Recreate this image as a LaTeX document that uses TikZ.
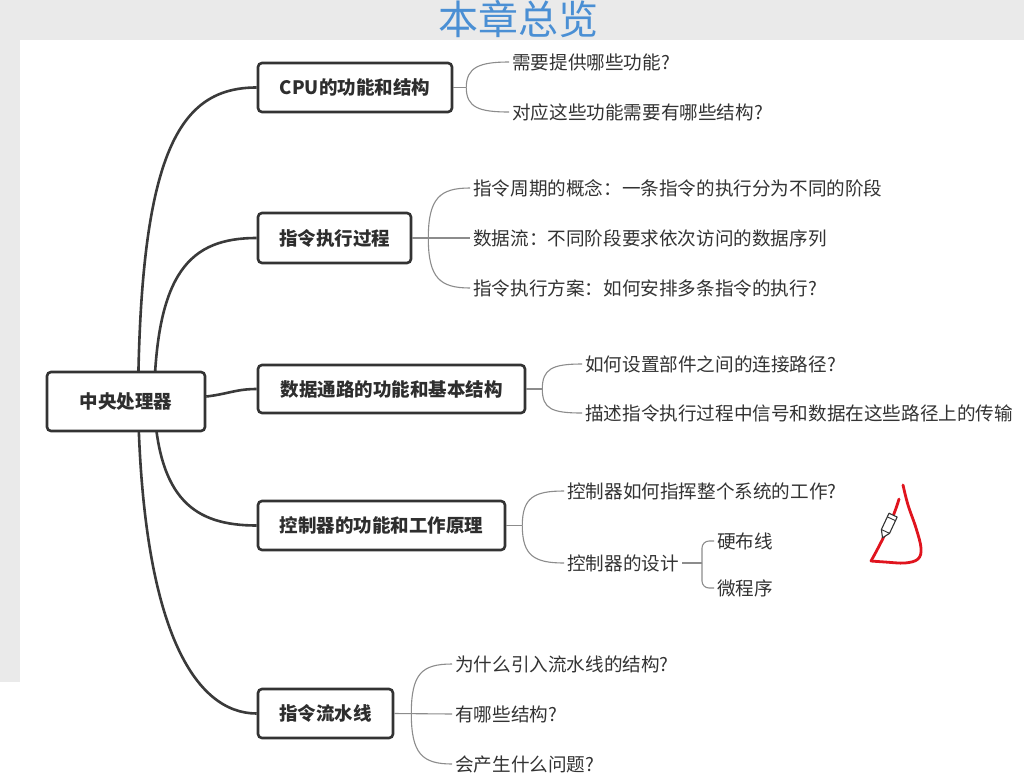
\documentclass[tikz,border=0pt]{standalone}
\usepackage{fontspec}
\setmainfont{Noto Sans CJK SC}
\usetikzlibrary{calc}
\pgfdeclarelayer{back}
\pgfdeclarelayer{bg}
\pgfsetlayers{back,bg,main}
\definecolor{titleblue}{HTML}{4A8FD4}
\definecolor{pagegray}{HTML}{EAEAEA}
\definecolor{nodeborder}{HTML}{333333}
\definecolor{nodetext}{HTML}{2E2E2E}
\definecolor{leaftext}{HTML}{333333}
\definecolor{linedark}{HTML}{3A3A3A}
\definecolor{linegray}{HTML}{8C8C8C}
\definecolor{inkred}{HTML}{E0141E}
\tikzset{
  topic/.style={draw=nodeborder, line width=2.6pt, rounded corners=4pt, fill=white,
    font=\fontsize{18.5}{20}\selectfont\bfseries, text=nodetext, inner sep=0pt},
  leaf/.style={anchor=west, inner xsep=3pt, inner ysep=0pt,
    font=\fontsize{18.6}{20}\selectfont, text=leaftext},
  mainline/.style={draw=linedark, line width=2.6pt},
  subline/.style={draw=linegray, line width=1.1pt},
  redink/.style={draw=inkred, line width=2.8pt, line cap=round, line join=round},
}
\begin{document}
\begin{tikzpicture}[x=1pt,y=-1pt]
\useasboundingbox (0,0) rectangle (1024,779);
\begin{pgfonlayer}{back}
\fill[pagegray] (0,0) rectangle (1024,779);
\fill[white] (20,40) rectangle (1024,779);
\fill[white] (0,682) rectangle (20,779);
\end{pgfonlayer}

\node[font=\fontsize{40}{44}\selectfont, text=titleblue] (title) at (518,19) {本章总览};

% topic nodes
\node[topic, minimum width=158pt, minimum height=59pt] (root) at (126,401.5) {中央处理器};
\node[topic, minimum width=194pt, minimum height=49pt] (n1) at (355,87.5) {CPU的功能和结构};
\node[topic, minimum width=153pt, minimum height=50pt] (n2) at (334.5,238) {指令执行过程};
\node[topic, minimum width=267pt, minimum height=48pt] (n3) at (391.5,389) {数据通路的功能和基本结构};
\node[topic, minimum width=247pt, minimum height=49pt] (n4) at (381.5,525.5) {控制器的功能和工作原理};
\node[topic, minimum width=135pt, minimum height=49pt] (n5) at (325.5,713.5) {指令流水线};

% leaves
\node[leaf] (a1) at (509,62) {需要提供哪些功能?};
\node[leaf] (a2) at (509,112) {对应这些功能需要有哪些结构?};
\node[leaf] (b1) at (470,188) {指令周期的概念：一条指令的执行分为不同的阶段};
\node[leaf] (b2) at (470,238) {数据流：不同阶段要求依次访问的数据序列};
\node[leaf] (b3) at (470,288) {指令执行方案：如何安排多条指令的执行?};
\node[leaf] (c1) at (582,364) {如何设置部件之间的连接路径?};
\node[leaf] (c2) at (582,413) {描述指令执行过程中信号和数据在这些路径上的传输};
\node[leaf] (d1) at (564,491) {控制器如何指挥整个系统的工作?};
\node[leaf] (d2) at (564,563) {控制器的设计};
\node[leaf] (e1) at (714,541) {硬布线};
\node[leaf] (e2) at (714,588) {微程序};
\node[leaf] (f1) at (452,664) {为什么引入流水线的结构?};
\node[leaf] (f2) at (452,714) {有哪些结构?};
\node[leaf] (f3) at (452,764) {会产生什么问题?};

% junctions
\coordinate (J1) at ($(n1.east)+(13,0)$);
\coordinate (J2) at ($(n2.east)+(16,0)$);
\coordinate (J3) at ($(n3.east)+(16,0)$);
\coordinate (J4) at ($(n4.east)+(16,0)$);
\coordinate (J5) at ($(n5.east)+(17,0)$);
\coordinate (J6) at ($(d2.east)+(20,0)$);

\begin{pgfonlayer}{bg}
% main branches
\draw[mainline] ($(root.center)+(12,0)$) .. controls (140,150) and (180,87.5) .. (n1.west);
\draw[mainline] ($(root.center)+(28,0)$) .. controls (156,272) and (190,238) .. (n2.west);
\draw[mainline] ($(root.east)+(0,-5)$) .. controls (228,394) and (236,389) .. (n3.west);
\draw[mainline] ($(root.center)+(28,0)$) .. controls (158,500) and (195,525.5) .. (n4.west);
\draw[mainline] ($(root.center)+(12,0)$) .. controls (142,630) and (195,713.5) .. (n5.west);
\end{pgfonlayer}

% sub branches
\draw[subline] (n1.east) -- (J1);
\draw[subline] (J1) .. controls ($(J1)+(0,-20)$) and ($(a1.west)+(-30,0)$) .. (a1.west);
\draw[subline] (J1) .. controls ($(J1)+(0,20)$) and ($(a2.west)+(-30,0)$) .. (a2.west);

\draw[subline] (n2.east) -- (b2.west);
\draw[subline] (J2) .. controls ($(J2)+(0,-40)$) and ($(b1.west)+(-30,0)$) .. (b1.west);
\draw[subline] (J2) .. controls ($(J2)+(0,40)$) and ($(b3.west)+(-30,0)$) .. (b3.west);

\draw[subline] (n3.east) -- (J3);
\draw[subline] (J3) .. controls ($(J3)+(0,-20)$) and ($(c1.west)+(-30,0)$) .. (c1.west);
\draw[subline] (J3) .. controls ($(J3)+(0,20)$) and ($(c2.west)+(-30,0)$) .. (c2.west);

\draw[subline] (n4.east) -- (J4);
\draw[subline] (J4) .. controls ($(J4)+(0,-28)$) and ($(d1.west)+(-30,0)$) .. (d1.west);
\draw[subline] (J4) .. controls ($(J4)+(0,30)$) and ($(d2.west)+(-30,0)$) .. (d2.west);

\draw[subline] (d2.east) -- (J6);
\draw[subline, rounded corners=7pt] (J6) |- (e1.west);
\draw[subline, rounded corners=7pt] (J6) |- (e2.west);

\draw[subline] (n5.east) -- (f2.west);
\draw[subline] (J5) .. controls ($(J5)+(0,-40)$) and ($(f1.west)+(-30,0)$) .. (f1.west);
\draw[subline] (J5) .. controls ($(J5)+(0,40)$) and ($(f3.west)+(-30,0)$) .. (f3.west);

% red hand-drawn mark
\draw[redink] plot[smooth, tension=0.6] coordinates {(903,485) (908,505) (916,528) (921,548) (918,559) (905,563) (885,562) (871,561)};
\draw[redink] (871,561) .. controls (880,545) and (893,520) .. (899,499);

% pencil cursor
\begin{scope}[shift={(888,526)}, rotate=-115]
\draw[fill=white, draw=black!80, line width=1.1pt, line join=round]
  (-12,-4.5) -- (6,-4.5) -- (13,0) -- (6,4.5) -- (-12,4.5) -- cycle;
\draw[draw=black!80, line width=0.9pt] (-8,-4.5) -- (-8,4.5);
\draw[draw=black!80, line width=0.9pt] (6,-4.5) -- (6,4.5);
\end{scope}
\end{tikzpicture}
\end{document}
